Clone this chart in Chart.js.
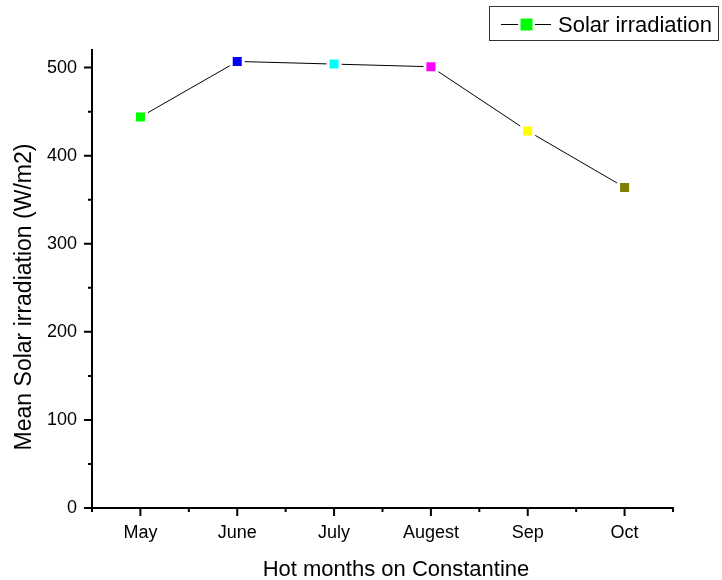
<!DOCTYPE html>
<html>
<head>
<meta charset="utf-8">
<title>Mean Solar irradiation</title>
<script src="https://cdn.jsdelivr.net/npm/chart.js@4/dist/chart.umd.min.js"></script>
<style>
  html, body { margin: 0; padding: 0; background: #fff; }
  canvas { display: block; }
</style>
</head>
<body>
<canvas id="chart" width="722" height="580"></canvas>
<script>
// Monthly mean solar irradiation (W/m2), hot months in Constantine
const months = ['May', 'June', 'July', 'Augest', 'Sep', 'Oct'];
const irradiation = [444, 507, 504, 501, 428, 364];
const markerColors = ['#00FF00', '#0000FF', '#00FFFF', '#FF00FF', '#FFFF00', '#808000'];
const yTickValues = [0, 100, 200, 300, 400, 500];
const yMinorValues = [50, 150, 250, 350, 450];
const seriesName = 'Solar irradiation';
const xTitle = 'Hot months on Constantine';
const yTitle = 'Mean Solar irradiation (W/m2)';

const FONT = "'Liberation Sans', Arial, Helvetica, sans-serif";
Chart.defaults.font.family = FONT;
Chart.defaults.color = '#000';

// Axis lines, outward tick marks, axis titles and the boxed legend
const frame = {
  id: 'frame',
  beforeDatasetsDraw(chart) {
    const ctx = chart.ctx;
    const a = chart.chartArea;
    const xs = chart.scales.x;
    const ys = chart.scales.y;
    ctx.save();
    ctx.strokeStyle = '#000';
    ctx.lineWidth = 2;
    ctx.lineCap = 'square';
    ctx.beginPath();
    ctx.moveTo(a.left, a.top);
    ctx.lineTo(a.left, a.bottom);
    ctx.lineTo(a.right, a.bottom);
    ctx.stroke();
    ctx.lineCap = 'butt';
    ctx.beginPath();
    yTickValues.forEach(v => {
      const y = ys.getPixelForValue(v);
      ctx.moveTo(a.left, y); ctx.lineTo(a.left - 8, y);
    });
    yMinorValues.forEach(v => {
      const y = ys.getPixelForValue(v);
      ctx.moveTo(a.left, y); ctx.lineTo(a.left - 4, y);
    });
    months.forEach((m, i) => {
      const x = xs.getPixelForValue(i);
      ctx.moveTo(x, a.bottom); ctx.lineTo(x, a.bottom + 8);
    });
    for (let i = 0; i <= months.length; i++) {
      const x = xs.getPixelForValue(i - 0.5);
      ctx.moveTo(x, a.bottom); ctx.lineTo(x, a.bottom + 4);
    }
    ctx.stroke();
    ctx.restore();
  },
  afterDraw(chart) {
    const ctx = chart.ctx;
    ctx.save();
    ctx.fillStyle = '#000';
    // x title
    ctx.font = '22px ' + FONT;
    ctx.textAlign = 'center';
    ctx.textBaseline = 'alphabetic';
    ctx.fillText(xTitle, 396, 576);
    // y title
    ctx.save();
    ctx.translate(31, 297);
    ctx.rotate(-Math.PI / 2);
    ctx.font = '23px ' + FONT;
    ctx.fillText(yTitle, 0, 0);
    ctx.restore();
    // legend
    ctx.strokeStyle = '#333';
    ctx.lineWidth = 1;
    ctx.strokeRect(489.5, 6.5, 229, 34);
    ctx.strokeStyle = '#000';
    ctx.beginPath();
    ctx.moveTo(501, 24.5); ctx.lineTo(518, 24.5);
    ctx.moveTo(535, 24.5); ctx.lineTo(551, 24.5);
    ctx.stroke();
    ctx.fillStyle = markerColors[0];
    ctx.fillRect(520.5, 18.5, 12, 12);
    ctx.fillStyle = '#000';
    ctx.font = '22px ' + FONT;
    ctx.textAlign = 'left';
    ctx.fillText(seriesName, 558, 32);
    ctx.restore();
  }
};

new Chart(document.getElementById('chart'), {
  type: 'line',
  data: {
    labels: months,
    datasets: [{
      label: seriesName,
      data: irradiation,
      borderColor: '#000',
      borderWidth: 1,
      tension: 0,
      pointStyle: 'rect',
      pointRadius: 8.5,
      pointHoverRadius: 8.5,
      pointBackgroundColor: markerColors,
      pointBorderColor: '#fff',
      pointBorderWidth: 3
    }]
  },
  plugins: [frame],
  options: {
    responsive: false,
    devicePixelRatio: 1,
    animation: false,
    events: [],
    layout: { padding: { top: 50, right: 49, left: 0, bottom: 0 } },
    plugins: {
      legend: { display: false },
      tooltip: { enabled: false },
      title: { display: false }
    },
    scales: {
      x: {
        type: 'category',
        offset: true,
        grid: { display: false, drawTicks: false },
        border: { display: false },
        ticks: { font: { size: 18 }, padding: 14, maxRotation: 0, autoSkip: false },
        afterFit(scale) { scale.height = 72; }
      },
      y: {
        min: 0,
        max: 520,
        grid: { display: false, drawTicks: false },
        border: { display: false },
        ticks: { font: { size: 18 }, padding: 15 },
        afterBuildTicks(scale) { scale.ticks = yTickValues.map(v => ({ value: v })); },
        afterFit(scale) { scale.width = 92; }
      }
    }
  }
});
</script>
</body>
</html>
